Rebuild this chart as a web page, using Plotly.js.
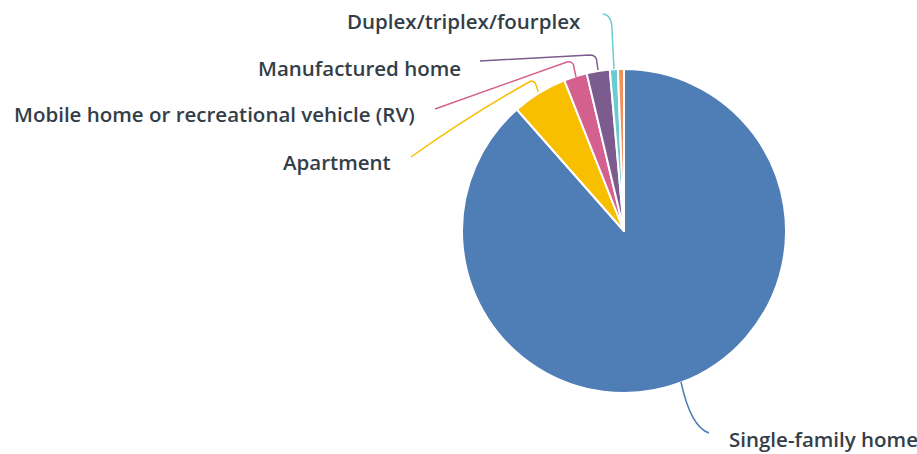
<!DOCTYPE html>
<html><head><meta charset="utf-8">
<script src="https://cdn.plot.ly/plotly-3.0.1.min.js"></script>
<style>html,body{margin:0;padding:0;background:#fff}#chart{width:917px;height:454px}</style>
</head><body><div id="chart"></div>
<script>
const categories = ["Single-family home","Apartment","Mobile home or recreational vehicle (RV)","Manufactured home","Duplex/triplex/fourplex","Other"];
const shares = [88.5, 5.5, 2.3, 2.3, 0.8, 0.6];
const colors = ["#4F7DB6","#F8BE00","#D4608F","#7C5C8E","#6CCBD0","#F2905E"];
const labelShown = [true,true,true,true,true,false];

const W = 917, H = 454;
const fx = x => x / W, fy = y => 1 - y / H;
function path(cmds){
  return cmds.map(c => c[0] + c.slice(1).map((v,i)=> i%2===0 ? fx(v).toFixed(5) : fy(v).toFixed(5)).reduce((a,v,i)=> a + (i%2===0 ? (i?' ':'') + v : ',' + v), ' ')).join(' ');
}

// label placement (pixels) and leader lines
const labelPos = [
  {x:727, y:439, anchor:'left'},
  {x:393, y:162, anchor:'right'},
  {x:417, y:114, anchor:'right'},
  {x:463, y:68, anchor:'right'},
  {x:583, y:21, anchor:'right'}
];
const leaders = [
  [["M",681,382],["C",686,405,694,428,709,433]],
  [["M",411,157],["Q",470,115,531,81],["Q",536,80,538,92]],
  [["M",435,109],["L",567,62],["Q",574,61,574,68],["L",576,77]],
  [["M",480,61],["L",590,55],["Q",597,55,597,63],["L",598,70]],
  [["M",603,14],["Q",612,15,612,30],["L",614,69]]
];

const annotations = [], shapes = [];
categories.forEach((c,i)=>{
  if(!labelShown[i]) return;
  const p = labelPos[i];
  annotations.push({x:fx(p.x), y:fy(p.y), xref:'paper', yref:'paper', text:c, showarrow:false,
    xanchor:p.anchor, yanchor:'middle', font:{family:'Open Sans', size:20.5, color:'#333E48', weight:600}});
  shapes.push({type:'path', xref:'paper', yref:'paper', path:path(leaders[i]), line:{color:colors[i], width:1.5}});
});

const trace = {
  type:'pie', labels:categories, values:shares, sort:false, direction:'clockwise', rotation:0,
  marker:{colors:colors, line:{color:'#ffffff', width:2}},
  textinfo:'none', hoverinfo:'label+percent', showlegend:false,
  domain:{x:[462/W, 786/W], y:[1-393/H, 1-69/H]}
};
Plotly.newPlot('chart',[trace],{
  width:W, height:H, margin:{l:0,r:0,t:0,b:0}, paper_bgcolor:'#fff',
  annotations:annotations, shapes:shapes, showlegend:false
},{displayModeBar:false, staticPlot:true});
</script></body></html>
